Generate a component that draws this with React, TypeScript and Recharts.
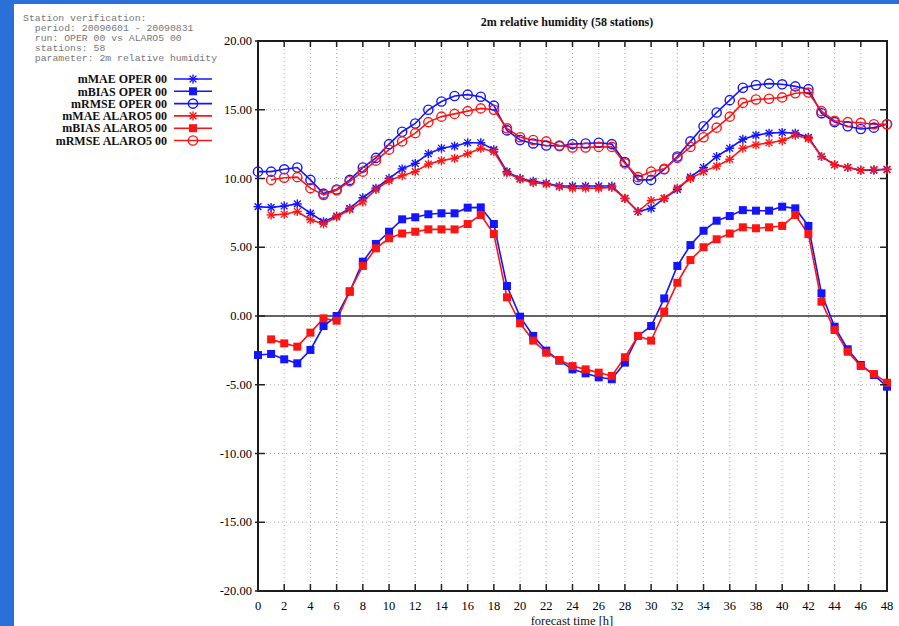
import React from "react";
import { CartesianGrid, Line, LineChart, ReferenceArea, ReferenceLine, XAxis, YAxis } from "recharts";

const hours = [0, 1, 2, 3, 4, 5, 6, 7, 8, 9, 10, 11, 12, 13, 14, 15, 16, 17, 18, 19, 20, 21, 22, 23, 24, 25, 26, 27, 28, 29, 30, 31, 32, 33, 34, 35, 36, 37, 38, 39, 40, 41, 42, 43, 44, 45, 46, 47, 48];
const xTicks = [0, 2, 4, 6, 8, 10, 12, 14, 16, 18, 20, 22, 24, 26, 28, 30, 32, 34, 36, 38, 40, 42, 44, 46, 48];
const yTicks = [-20, -15, -10, -5, 0, 5, 10, 15, 20];

const operMae = [7.95, 7.9, 8.0, 8.15, 7.47, 6.86, 7.27, 7.83, 8.6, 9.3, 10.0, 10.7, 11.1, 11.8, 12.2, 12.36, 12.6, 12.6, 12.1, 10.5, 10.0, 9.8, 9.65, 9.45, 9.45, 9.45, 9.45, 9.45, 8.55, 7.6, 7.83, 8.55, 9.2, 10.1, 10.8, 11.6, 12.2, 12.85, 13.15, 13.3, 13.35, 13.3, 13.0, 11.6, 11.0, 10.8, 10.6, 10.6, 10.67];
const operBias = [-2.84, -2.76, -3.15, -3.44, -2.47, -0.73, 0.0, 1.77, 3.95, 5.24, 6.13, 7.03, 7.18, 7.4, 7.47, 7.47, 7.88, 7.9, 6.69, 2.18, -0.05, -1.45, -2.52, -3.25, -3.88, -4.17, -4.46, -4.6, -3.39, -1.45, -0.73, 1.28, 3.64, 5.16, 6.2, 6.93, 7.27, 7.7, 7.66, 7.66, 7.95, 7.83, 6.55, 1.65, -0.78, -2.42, -3.56, -4.29, -5.14];
const operRmse = [10.5, 10.5, 10.67, 10.8, 9.9, 8.9, 9.2, 9.9, 10.8, 11.5, 12.5, 13.4, 14.0, 15.0, 15.6, 16.0, 16.1, 15.95, 15.3, 13.5, 12.8, 12.55, 12.4, 12.36, 12.5, 12.55, 12.6, 12.5, 11.2, 9.9, 9.9, 10.67, 11.6, 12.7, 13.8, 14.8, 15.7, 16.6, 16.8, 16.9, 16.85, 16.7, 16.5, 14.75, 14.1, 13.8, 13.6, 13.7, 13.95];
const alaroMae = [null, 7.35, 7.4, 7.6, 7.0, 6.7, 7.2, 7.75, 8.3, 9.2, 9.85, 10.2, 10.5, 11.05, 11.3, 11.47, 11.8, 12.2, 11.95, 10.4, 9.95, 9.7, 9.6, 9.4, 9.3, 9.3, 9.3, 9.35, 8.55, 7.6, 8.4, 8.55, 9.3, 10.0, 10.5, 10.9, 11.4, 12.2, 12.45, 12.6, 12.75, 13.15, 12.9, 11.6, 11.0, 10.8, 10.6, 10.65, 10.65];
const alaroBias = [null, -1.7, -1.99, -2.23, -1.21, -0.17, -0.34, 1.8, 3.64, 4.92, 5.65, 6.0, 6.13, 6.3, 6.3, 6.3, 6.69, 7.35, 5.96, 1.36, -0.53, -1.79, -2.67, -3.2, -3.64, -3.88, -4.12, -4.36, -3.0, -1.45, -1.79, 0.32, 2.42, 4.07, 5.0, 5.58, 6.0, 6.45, 6.38, 6.45, 6.55, 7.35, 5.96, 1.04, -1.02, -2.6, -3.64, -4.22, -4.85];
const alaroRmse = [null, 9.9, 10.06, 10.1, 9.3, 8.8, 9.15, 9.8, 10.5, 11.3, 12.1, 12.7, 13.3, 14.1, 14.5, 14.7, 14.9, 15.1, 15.0, 13.65, 13.0, 12.8, 12.7, 12.4, 12.25, 12.25, 12.3, 12.3, 11.1, 10.1, 10.5, 10.7, 11.5, 12.3, 13.0, 13.7, 14.5, 15.5, 15.75, 15.8, 15.9, 16.2, 16.25, 14.9, 14.2, 14.1, 14.05, 13.95, 13.95];

const headerLines = [
    "Station verification:",
    "  period: 20090601 - 20090831",
    "  run: OPER 00 vs ALARO5 00",
    "  stations: 58",
    "  parameter: 2m relative humidity",
];

const BLUE = "#1414ff";
const RED = "#ff1414";
const PLOT = { left: 258, top: 41, right: 887, bottom: 591 };
const serif = "'Liberation Serif', 'DejaVu Serif', serif";

type Marker = "star" | "square" | "circle";

const series: { key: string; label: string; color: string; marker: Marker; values: (number | null)[] }[] = [
    { key: "operMae", label: "mMAE OPER 00", color: BLUE, marker: "star", values: operMae },
    { key: "operBias", label: "mBIAS OPER 00", color: BLUE, marker: "square", values: operBias },
    { key: "operRmse", label: "mRMSE OPER 00", color: BLUE, marker: "circle", values: operRmse },
    { key: "alaroMae", label: "mMAE ALARO5 00", color: RED, marker: "star", values: alaroMae },
    { key: "alaroBias", label: "mBIAS ALARO5 00", color: RED, marker: "square", values: alaroBias },
    { key: "alaroRmse", label: "mRMSE ALARO5 00", color: RED, marker: "circle", values: alaroRmse },
];

const rows = hours.map((h, i) => {
    const row: Record<string, number | null> = { h };
    series.forEach((s) => (row[s.key] = s.values[i]));
    return row;
});

function MarkerShape({ kind, cx, cy, color }: { kind: Marker; cx: number; cy: number; color: string }) {
    if (kind === "square") {
        return <rect x={cx - 4} y={cy - 4} width={8} height={8} fill={color} />;
    }
    if (kind === "circle") {
        return <circle cx={cx} cy={cy} r={4.6} fill="none" stroke={color} strokeWidth={1.4} />;
    }
    const r = 4.5;
    return (
        <g stroke={color} strokeWidth={1.4}>
            <line x1={cx - r} y1={cy} x2={cx + r} y2={cy} />
            <line x1={cx} y1={cy - r} x2={cx} y2={cy + r} />
            <line x1={cx - r * 0.75} y1={cy - r * 0.75} x2={cx + r * 0.75} y2={cy + r * 0.75} />
            <line x1={cx - r * 0.75} y1={cy + r * 0.75} x2={cx + r * 0.75} y2={cy - r * 0.75} />
        </g>
    );
}

const dotRenderer = (kind: Marker, color: string, key: string) => (props: any) => {
    const k = `${key}-${props.index}`;
    if (props.cx == null || props.cy == null || props.value == null) return <g key={k} />;
    return (
        <g key={k}>
            <MarkerShape kind={kind} cx={props.cx} cy={props.cy} color={color} />
        </g>
    );
};

const XTick = (props: any) => {
    const { x, payload } = props;
    return (
        <g>
            <line x1={x} y1={PLOT.bottom} x2={x} y2={PLOT.bottom - 7} stroke="#222" strokeWidth={1.5} />
            <line x1={x} y1={PLOT.top} x2={x} y2={PLOT.top + 6} stroke="#222" strokeWidth={1.5} />
            <text x={x} y={PLOT.bottom + 19} textAnchor="middle" fontFamily={serif} fontSize={12.5} fill="#000">
                {payload.value}
            </text>
        </g>
    );
};

const YTick = (props: any) => {
    const { y, payload } = props;
    return (
        <g>
            <line x1={PLOT.left - 3} y1={y} x2={PLOT.left + 7} y2={y} stroke="#222" strokeWidth={1.5} />
            <line x1={PLOT.right - 7} y1={y} x2={PLOT.right} y2={y} stroke="#222" strokeWidth={1.5} />
            <text x={PLOT.left - 6} y={y + 4} textAnchor="end" fontFamily={serif} fontSize={12.5} fill="#000">
                {Number(payload.value).toFixed(2)}
            </text>
        </g>
    );
};

export default function App() {
    return (
        <div style={{ position: "fixed", left: 0, top: 0, width: 899, height: 626, background: "#2a70d6", overflow: "hidden" }}>
            <div style={{ position: "absolute", left: 14, top: 4, right: 0, bottom: 0, background: "#fff" }} />
            <LineChart
                width={899}
                height={626}
                data={rows}
                style={{ position: "absolute", left: 0, top: 0 }}
                margin={{ top: PLOT.top, right: 899 - PLOT.right, bottom: 626 - PLOT.bottom - 30, left: PLOT.left - 60 }}
            >
                <CartesianGrid stroke="#aaa" strokeDasharray="1 3" />
                <XAxis dataKey="h" type="number" domain={[0, 48]} ticks={xTicks} interval={0} height={30} axisLine={false} tickLine={false} tick={<XTick />} />
                <YAxis type="number" domain={[-20, 20]} ticks={yTicks} interval={0} width={60} axisLine={false} tickLine={false} tick={<YTick />} />
                <ReferenceLine y={0} stroke="#333" strokeWidth={1.6} />
                <ReferenceArea x1={0} x2={48} y1={-20} y2={20} fill="none" fillOpacity={0} stroke="#1a1a1a" strokeWidth={2} />
                {series.map((s) => (
                    <Line
                        key={s.key}
                        dataKey={s.key}
                        type="linear"
                        stroke={s.color}
                        strokeWidth={1.6}
                        dot={dotRenderer(s.marker, s.color, s.key)}
                        activeDot={false}
                        isAnimationActive={false}
                        connectNulls={false}
                    />
                ))}
            </LineChart>
            <svg width={899} height={626} style={{ position: "absolute", left: 0, top: 0, pointerEvents: "none" }}>
                {headerLines.map((line, i) => (
                    <text key={i} x={23} y={21 + i * 10} fontFamily="'Liberation Mono', monospace" fontSize={9.8} fill="#777" xmlSpace="preserve" style={{ whiteSpace: "pre" }}>
                        {line}
                    </text>
                ))}
                <text x={567} y={26} textAnchor="middle" fontFamily={serif} fontWeight="bold" fontSize={12} fill="#111">
                    2m relative humidity (58 stations)
                </text>
                {series.map((s, i) => {
                    const y = 79 + i * 12.3;
                    return (
                        <g key={s.key}>
                            <text x={167} y={y + 4.2} textAnchor="end" fontFamily={serif} fontWeight="bold" fontSize={12} fill="#111">
                                {s.label}
                            </text>
                            <line x1={174} y1={y} x2={212} y2={y} stroke={s.color} strokeWidth={1.6} />
                            <MarkerShape kind={s.marker} cx={193} cy={y} color={s.color} />
                        </g>
                    );
                })}
                <text x={572} y={625} textAnchor="middle" fontFamily={serif} fontSize={12.5} fill="#111">
                    forecast time [h]
                </text>
            </svg>
        </div>
    );
}
